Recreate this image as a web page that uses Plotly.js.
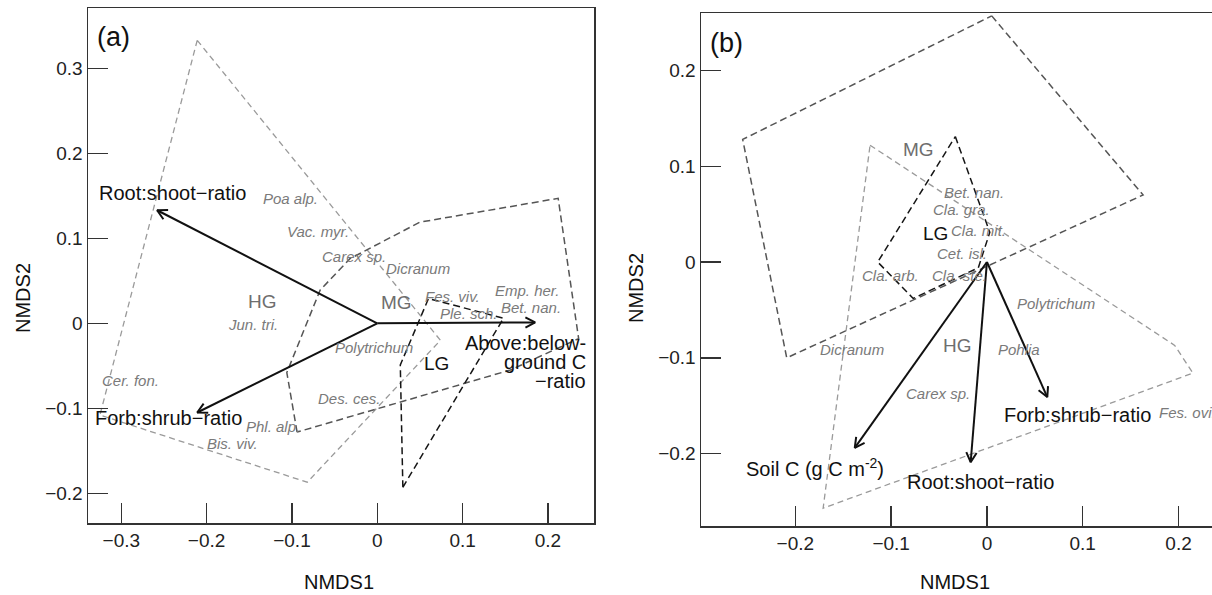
<!DOCTYPE html>
<html><head><meta charset="utf-8">
<script src="https://cdn.plot.ly/plotly-3.0.1.min.js"></script>
<style>html,body{margin:0;padding:0;overflow:hidden;background:#fff}#chart{width:1250px;height:595px}</style>
</head><body><div id="chart"></div>
<script>
// ---------- Panel (a) data ----------
const aHG_x = [-0.211, 0.074, -0.082, -0.325];
const aHG_y = [0.333, -0.020, -0.187, -0.108];
const aMG_x = [-0.094, -0.106, -0.067, -0.032, 0.050, 0.212, 0.236, 0.156];
const aMG_y = [-0.128, -0.058, 0.039, 0.076, 0.119, 0.147, -0.018, -0.055];
const aLG_x = [0.030, 0.027, 0.060, 0.148];
const aLG_y = [-0.193, -0.049, 0.029, 0.006];

const aArrowNames = ["Root:shoot\u2212ratio", "Forb:shrub\u2212ratio", "Above:below-<br>ground C<br>\u2212ratio"];
const aArrowX = [-0.258, -0.211, 0.185];
const aArrowY = [0.133, -0.105, 0.001];
const aArrowLabX = [-0.240, -0.245, 0.247];
const aArrowLabY = [0.153, -0.112, -0.046];
const aArrowAnchor = ["center", "center", "right"];

const aGroups = ["HG", "MG", "LG"];
const aGroupX = [-0.135, 0.022, 0.069];
const aGroupY = [0.026, 0.025, -0.047];

const aSpecies = ["Poa alp.", "Vac. myr.", "Carex sp.", "Dicranum", "Fes. viv.", "Ple. sch.", "Emp. her.", "Bet. nan.", "Polytrichum", "Jun. tri.", "Cer. fon.", "Phl. alp.", "Bis. viv.", "Des. ces."];
const aSpeciesX = [-0.102, -0.069, -0.027, 0.048, 0.088, 0.108, 0.176, 0.180, -0.004, -0.146, -0.289, -0.122, -0.170, -0.033];
const aSpeciesY = [0.147, 0.108, 0.079, 0.065, 0.031, 0.012, 0.039, 0.018, -0.029, -0.002, -0.067, -0.121, -0.141, -0.088];

const aXTicks = [-0.3, -0.2, -0.1, 0, 0.1, 0.2];
const aXTickText = ["\u22120.3", "\u22120.2", "\u22120.1", "0", "0.1", "0.2"];
const aYTicks = [-0.2, -0.1, 0, 0.1, 0.2, 0.3];
const aYTickText = ["\u22120.2", "\u22120.1", "0", "0.1", "0.2", "0.3"];

// ---------- Panel (b) data ----------
const bMG_x = [0.005, 0.163, -0.209, -0.255];
const bMG_y = [0.257, 0.070, -0.100, 0.128];
const bHG_x = [-0.122, 0.196, 0.215, -0.171];
const bHG_y = [0.122, -0.087, -0.116, -0.257];
const bLG_x = [-0.033, 0.003, -0.009, -0.077, -0.114];
const bLG_y = [0.131, 0.031, -0.006, -0.038, 0.000];

const bArrowNames = ["Soil C (g C m<sup>-2</sup>)", "Root:shoot\u2212ratio", "Forb:shrub\u2212ratio"];
const bArrowX = [-0.138, -0.017, 0.063];
const bArrowY = [-0.194, -0.209, -0.141];
const bArrowLabX = [-0.179, -0.007, 0.095];
const bArrowLabY = [-0.215, -0.230, -0.160];
const bArrowAnchor = ["center", "center", "center"];

const bGroups = ["HG", "MG", "LG"];
const bGroupX = [-0.031, -0.071, -0.054];
const bGroupY = [-0.087, 0.117, 0.030];

const bSpecies = ["Bet. nan.", "Cla. gra.", "Cla. mit.", "Cet. isl.", "Cla. arb.", "Cla. ste.", "Polytrichum", "Pohlia", "Carex sp.", "Dicranum", "Fes. ovi."];
const bSpeciesX = [-0.013, -0.027, -0.009, -0.026, -0.101, -0.029, 0.072, 0.033, -0.051, -0.141, 0.209];
const bSpeciesY = [0.073, 0.055, 0.033, 0.009, -0.014, -0.014, -0.043, -0.091, -0.137, -0.091, -0.157];

const bXTicks = [-0.2, -0.1, 0, 0.1, 0.2];
const bXTickText = ["\u22120.2", "\u22120.1", "0", "0.1", "0.2"];
const bYTicks = [-0.2, -0.1, 0, 0.1, 0.2];
const bYTickText = ["\u22120.2", "\u22120.1", "0", "0.1", "0.2"];

// ---------- Layout geometry ----------
const W = 1250, H = 595;
const FONT = '"Liberation Sans", Arial, sans-serif';
const GA = {left: 88, right: 594, top: 8, bottom: 523, xr: [-0.339, 0.254], yr: [-0.235, 0.371]};
const GB = {left: 701, right: 1236, top: 13, bottom: 526, xr: [-0.2985, 0.26], yr: [-0.2756, 0.26]};

const groupStyle = {
  HG: {color: "#9a9a9a", dash: "6px,4px", width: 1.3},
  MG: {color: "#555555", dash: "7px,4px", width: 1.5},
  LG: {color: "#151515", dash: "7px,4px", width: 1.5}
};
const groupTextColor = {HG: "#6e6e6e", MG: "#6e6e6e", LG: "#111"};

function closed(a) { return a.concat([a[0]]); }

function hull(xs, ys, g, xa, ya) {
  const s = groupStyle[g];
  return {type: "scatter", mode: "lines", x: closed(xs), y: closed(ys), xaxis: xa, yaxis: ya,
    line: {color: s.color, dash: s.dash, width: s.width}, hoverinfo: "skip", showlegend: false};
}

function arrows(tx, ty, G, xa, ya) {
  const sx = (G.right - G.left) / (G.xr[1] - G.xr[0]);
  const sy = (G.bottom - G.top) / (G.yr[1] - G.yr[0]);
  const X = [], Y = [];
  const L = 11, ang = 28 * Math.PI / 180;
  for (let i = 0; i < tx.length; i++) {
    X.push(0, tx[i], null); Y.push(0, ty[i], null);
    const px = tx[i] * sx, py = ty[i] * sy;
    const th = Math.atan2(py, px);
    const h1x = px - L * Math.cos(th - ang), h1y = py - L * Math.sin(th - ang);
    const h2x = px - L * Math.cos(th + ang), h2y = py - L * Math.sin(th + ang);
    X.push(h1x / sx, tx[i], h2x / sx, null);
    Y.push(h1y / sy, ty[i], h2y / sy, null);
  }
  return {type: "scatter", mode: "lines", x: X, y: Y, xaxis: xa, yaxis: ya,
    line: {color: "#111", width: 2}, hoverinfo: "skip", showlegend: false};
}

const traces = [
  hull(aHG_x, aHG_y, "HG", "x", "y"),
  hull(aMG_x, aMG_y, "MG", "x", "y"),
  hull(aLG_x, aLG_y, "LG", "x", "y"),
  arrows(aArrowX, aArrowY, GA, "x", "y"),
  hull(bMG_x, bMG_y, "MG", "x2", "y2"),
  hull(bHG_x, bHG_y, "HG", "x2", "y2"),
  hull(bLG_x, bLG_y, "LG", "x2", "y2"),
  arrows(bArrowX, bArrowY, GB, "x2", "y2")
];

const annotations = [];
function addText(xs, ys, texts, xa, ya, font, anchors) {
  for (let i = 0; i < texts.length; i++) {
    const lines = texts[i].split("<br>");
    const n = lines.length;
    lines.forEach((ln, j) => {
      annotations.push({x: xs[i], y: ys[i], xref: xa, yref: ya, text: ln, showarrow: false,
        xanchor: anchors ? anchors[i] : "center", yanchor: "middle",
        yshift: ((n - 1) / 2 - j) * 19, font: font});
    });
  }
}
const spFont = {family: FONT, size: 15, color: "#7a7a7a", style: "italic"};
addText(aSpeciesX, aSpeciesY, aSpecies, "x", "y", spFont);
addText(bSpeciesX, bSpeciesY, bSpecies, "x2", "y2", spFont);
addText(aArrowLabX, aArrowLabY, aArrowNames, "x", "y", {family: FONT, size: 20, color: "#111"}, aArrowAnchor);
addText(bArrowLabX, bArrowLabY, bArrowNames, "x2", "y2", {family: FONT, size: 20, color: "#111"}, bArrowAnchor);
aGroups.forEach((g, i) => annotations.push({x: aGroupX[i], y: aGroupY[i], xref: "x", yref: "y", text: g, showarrow: false,
  xanchor: "center", yanchor: "middle", font: {family: FONT, size: 19, color: groupTextColor[g]}}));
bGroups.forEach((g, i) => annotations.push({x: bGroupX[i], y: bGroupY[i], xref: "x2", yref: "y2", text: g, showarrow: false,
  xanchor: "center", yanchor: "middle", font: {family: FONT, size: 19, color: groupTextColor[g]}}));

// panel tags and axis titles
const px = v => v / W, py = v => 1 - v / H;
function paperText(x, y, text, size, xanchor, angle) {
  annotations.push({x: px(x), y: py(y), xref: "paper", yref: "paper", text: text, showarrow: false,
    xanchor: xanchor, yanchor: "middle", textangle: angle || 0, font: {family: FONT, size: size, color: "#111"}});
}
paperText(95, 37, "(a)", 27, "left");
paperText(708, 43, "(b)", 27, "left");
paperText(339, 582, "NMDS1", 20, "center");
paperText(955, 582, "NMDS1", 20, "center");
paperText(23, 298, "NMDS2", 20, "center", -90);
paperText(636, 288, "NMDS2", 20, "center", -90);

function axis(G, horiz, tv, tt, anchor) {
  return {
    domain: horiz ? [px(G.left), px(G.right)] : [py(G.bottom), py(G.top)],
    range: horiz ? G.xr : G.yr, anchor: anchor,
    tickmode: "array", tickvals: tv, ticktext: tt,
    ticks: "inside", ticklen: 20, tickwidth: 1.5, tickcolor: "#333",
    showline: true, mirror: true, linecolor: "#333", linewidth: 1.5,
    showgrid: false, zeroline: false, fixedrange: true,
    tickfont: {family: FONT, size: 19, color: "#222"}
  };
}

const layout = {
  width: W, height: H, margin: {l: 0, r: 0, t: 0, b: 0},
  paper_bgcolor: "#fff", plot_bgcolor: "#fff", showlegend: false,
  xaxis: axis(GA, true, aXTicks, aXTickText, "y"),
  yaxis: axis(GA, false, aYTicks, aYTickText, "x"),
  xaxis2: axis(GB, true, bXTicks, bXTickText, "y2"),
  yaxis2: axis(GB, false, bYTicks, bYTickText, "x2"),
  annotations: annotations
};

Plotly.newPlot("chart", traces, layout, {displayModeBar: false, staticPlot: true});
</script></body></html>
